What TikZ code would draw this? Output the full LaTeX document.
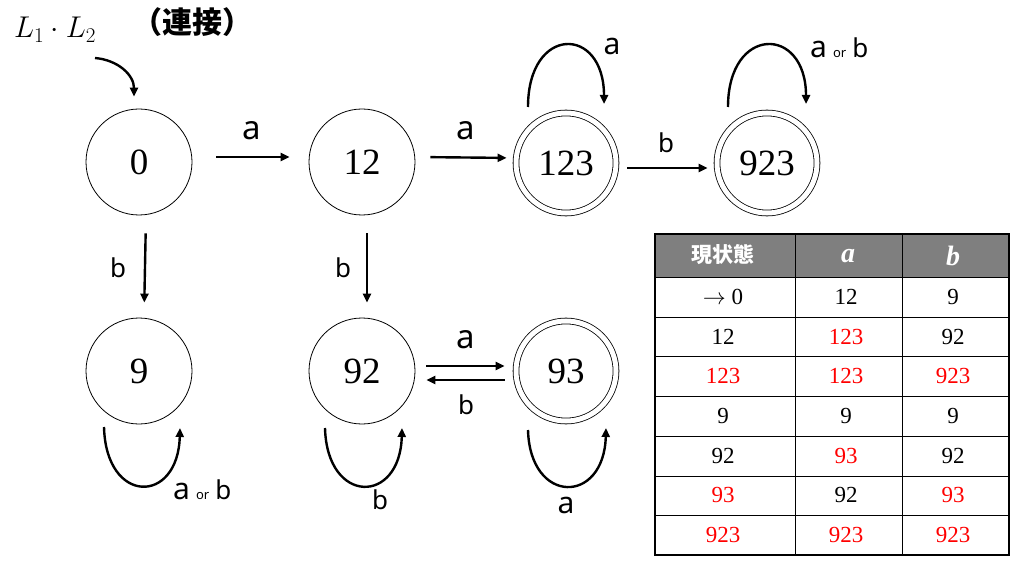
\documentclass[tikz,border=0pt]{standalone}
\usepackage{fix-cm}
\usepackage{bm}
\usepackage{fontspec}
\newfontfamily\cjk{Noto Sans CJK JP}
\newfontfamily\lab{Noto Sans}
\newfontfamily\num{Liberation Serif}
\usetikzlibrary{arrows.meta,calc}
\definecolor{hdr}{HTML}{7F7F7F}
\definecolor{rd}{HTML}{FF0000}
\begin{document}
\begin{tikzpicture}[x=1pt,y=-1pt,
  st/.style={circle,draw,line width=0.8pt,minimum size=106pt,inner sep=0pt,font=\num\fontsize{37}{39}\selectfont},
  acc/.style={circle,draw,line width=0.8pt,double,double distance=5pt,minimum size=100pt,inner sep=0pt,font=\num\fontsize{37}{39}\selectfont},
  tr/.style={line width=2.4pt,-{Triangle[length=9pt,width=8pt]}},
  la/.style={font=\lab\fontsize{33}{35}\selectfont,inner sep=0pt},
  lal/.style={font=\lab\fontsize{30}{32}\selectfont,inner sep=0pt},
  lb/.style={font=\lab\fontsize{26}{28}\selectfont,inner sep=0pt},
  cell/.style={font=\num\fontsize{23}{25}\selectfont,inner sep=0pt},
  rcell/.style={cell,text=rd}]
\useasboundingbox (0,0) rectangle (1024,569);
% title
\node[font=\fontsize{30}{32}\selectfont,inner sep=0pt] (ttl) at (55,30) {$L_1\cdot L_2$};
\node[font=\cjk\bfseries\fontsize{30}{32}\selectfont,inner sep=0pt] (ttl2) at (192,22) {（連接）};
% states
\node[st] (n0) at (139,162) {0};
\node[st] (n12) at (362,162) {12};
\node[acc] (n123) at (566,163) {123};
\node[acc] (n923) at (767,163) {923};
\node[st] (n9) at (139,371) {9};
\node[st] (n92) at (362,371) {92};
\node[acc] (n93) at (566,371) {93};
% start arrow
\coordinate (s0) at (95,58);
\draw[tr] (s0) .. controls (118,60) and (134,75) .. ([xshift=-5pt,yshift=12pt]n0.north);
% transitions
\draw[tr,shorten <=24pt,shorten >=19pt] ([yshift=5pt]n0.east) -- ([yshift=5pt]n12.west);
\node[la] (la1) at (252,131) {a};
\draw[tr,shorten <=15pt,shorten >=9pt] ([yshift=5pt]n12.east) -- ([yshift=5pt]n123.west);
\node[la] (la2) at (466,131) {a};
\draw[tr,shorten <=11pt,shorten >=9pt] ([yshift=-5pt]n123.east) -- ([yshift=-5pt]n923.west);
\node[lb] (lb3) at (666,143) {b};
\draw[tr,shorten <=18pt,shorten >=15pt] ([xshift=7pt]n0.south) -- ([xshift=5pt]n9.north);
\node[lb] (lb4) at (118,268) {b};
\draw[tr,shorten <=18pt,shorten >=15pt] ([xshift=5pt]n12.south) -- ([xshift=5pt]n92.north);
\node[lb] (lb5) at (343,268) {b};
\draw[tr,shorten <=11pt,shorten >=11pt] ([yshift=5pt]n92.east) -- ([yshift=5pt]n93.west);
\node[la] (la6) at (466,340) {a};
\draw[tr,shorten <=11pt,shorten >=11pt] ([yshift=-9pt]n93.west) -- ([yshift=-9pt]n92.east);
\node[lb] (lb7) at (466,405) {b};
% loops
\coordinate (p1) at (528,107); \coordinate (q1) at (604,104);
\draw[tr] (p1) .. controls (528,25) and (604,25) .. (q1);
\node[lal] (la8) at (612,46) {a};
\coordinate (p2) at (728,107); \coordinate (q2) at (806,104);
\draw[tr] (p2) .. controls (728,25) and (806,25) .. (q2);
\node[lal,anchor=base west] (lab9) at (810,58) {a\hspace{6pt}{\fontsize{13}{14}\selectfont or}\hspace{6pt}{\fontsize{26}{28}\selectfont b}};
\coordinate (p3) at (104,427); \coordinate (q3) at (180,428);
\draw[tr] (p3) .. controls (106,505) and (178,505) .. (q3);
\node[lal,anchor=base west] (lab10) at (173,499) {a\hspace{6pt}{\fontsize{13}{14}\selectfont or}\hspace{6pt}{\fontsize{26}{28}\selectfont b}};
\coordinate (p4) at (325,428); \coordinate (q4) at (402,428);
\draw[tr] (p4) .. controls (327,505) and (400,505) .. (q4);
\node[lb] (lb11) at (380,500) {b};
\coordinate (p5) at (528,430); \coordinate (q5) at (606,428);
\draw[tr] (p5) .. controls (530,505) and (604,505) .. (q5);
\node[lal] (la12) at (566,505) {a};
% table
\fill[hdr] (655,234) rectangle (1009,277);
\foreach \y in {277,317,356,396,436,476,515} \draw[line width=0.8pt] (655,\y) -- (1009,\y);
\draw[line width=0.8pt] (795,234) -- (795,555);
\draw[line width=0.8pt] (902,234) -- (902,555);
\draw[line width=2.6pt] (655,234) rectangle (1009,555);
\node[font=\cjk\bfseries\fontsize{21}{23}\selectfont,text=white,inner sep=0pt] (h1) at (723,255) {現状態};
\node[font=\num\bfseries\itshape\fontsize{28}{30}\selectfont,text=white,inner sep=0pt] (h2) at (848,256) {a};
\node[font=\num\bfseries\itshape\fontsize{28}{30}\selectfont,text=white,inner sep=0pt] (h3) at (953,256) {b};
\node[cell] (c11) at (723,297) {$\rightarrow$ 0};
\node[cell] (c12) at (846,297) {12};
\node[cell] (c13) at (953,297) {9};
\node[cell] (c21) at (723,337) {12};
\node[rcell] (c22) at (846,337) {123};
\node[cell] (c23) at (953,337) {92};
\node[rcell] (c31) at (723,376) {123};
\node[rcell] (c32) at (846,376) {123};
\node[rcell] (c33) at (953,376) {923};
\node[cell] (c41) at (723,416) {9};
\node[cell] (c42) at (846,416) {9};
\node[cell] (c43) at (953,416) {9};
\node[cell] (c51) at (723,456) {92};
\node[rcell] (c52) at (846,456) {93};
\node[cell] (c53) at (953,456) {92};
\node[rcell] (c61) at (723,495) {93};
\node[cell] (c62) at (846,495) {92};
\node[rcell] (c63) at (953,495) {93};
\node[rcell] (c71) at (723,535) {923};
\node[rcell] (c72) at (846,535) {923};
\node[rcell] (c73) at (953,535) {923};
\end{tikzpicture}
\end{document}
